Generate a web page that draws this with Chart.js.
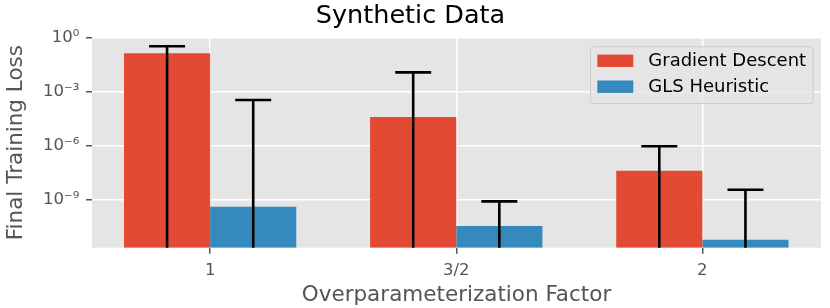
<!DOCTYPE html>
<html><head><meta charset="utf-8">
<script src="https://cdn.jsdelivr.net/npm/chart.js@4"></script>
<style>html,body{margin:0;padding:0;background:#fff;} #wrap{width:830px;height:308px;position:relative;}</style>
</head><body><div id="wrap"><canvas id="c" width="830" height="308"></canvas></div>
<script>
// ---- data ----
const categories = ['1', '3/2', '2'];
const categoryPositions = [0, 1, 2];
const seriesNames = ['Gradient Descent', 'GLS Heuristic'];
const gradientDescent = [0.133, 3.9e-5, 4.1e-8];
const glsHeuristic = [4.1e-10, 3.5e-11, 6.1e-12];
const gradientDescentErrHigh = [0.325, 0.0117, 9.3e-7];
const glsHeuristicErrHigh = [3.4e-4, 8.2e-10, 3.6e-9];
const gradientDescentErrLow = [1e-14, 1e-14, 1e-14];
const glsHeuristicErrLow = [1e-14, 1e-14, 1e-14];
const yTickValues = [1e-9, 1e-6, 1e-3, 1];
const yTickLabels = ['10⁻⁹', '10⁻⁶', '10⁻³', '10⁰'];
const yMin = 2.2e-12, yMax = 1;
const xMin = -0.48, xMax = 2.482;

const FONT = "'DejaVu Sans', sans-serif";
Chart.defaults.font.family = FONT;

const bgPlugin = {
  id: 'bg',
  beforeDraw(chart) {
    const {ctx, chartArea: a} = chart;
    ctx.save();
    ctx.fillStyle = '#E5E5E5';
    ctx.fillRect(a.left, a.top, a.right - a.left, a.bottom - a.top);
    ctx.restore();
  }
};

const errPlugin = {
  id: 'errbars',
  afterDatasetsDraw(chart) {
    const {ctx, chartArea: a, scales: {y}} = chart;
    ctx.save();
    ctx.beginPath();
    ctx.rect(a.left, a.top, a.right - a.left, a.bottom - a.top);
    ctx.clip();
    ctx.strokeStyle = '#000';
    ctx.lineWidth = 2.6;
    chart.data.datasets.forEach((ds, di) => {
      const meta = chart.getDatasetMeta(di);
      meta.data.forEach((bar, j) => {
        const yt = y.getPixelForValue(ds.errHigh[j]);
        const yb = Math.min(y.getPixelForValue(ds.errLow[j]), a.bottom + 5);
        ctx.beginPath();
        ctx.moveTo(bar.x, yb);
        ctx.lineTo(bar.x, yt);
        ctx.moveTo(bar.x - 18, yt);
        ctx.lineTo(bar.x + 18, yt);
        ctx.stroke();
      });
    });
    ctx.restore();
  }
};

const legendPlugin = {
  id: 'inlegend',
  afterDraw(chart) {
    const {ctx, chartArea: a} = chart;
    const w = 222.7, h = 56.7;
    const x0 = a.right - 8.3 - w, y0 = a.top + 8.8;
    ctx.save();
    ctx.beginPath();
    if (ctx.roundRect) ctx.roundRect(x0 + 0.5, y0 + 0.5, w, h, 3); else ctx.rect(x0 + 0.5, y0 + 0.5, w, h);
    ctx.fillStyle = 'rgba(229,229,229,0.8)';
    ctx.fill();
    ctx.strokeStyle = '#CCCCCC';
    ctx.lineWidth = 1;
    ctx.stroke();
    ctx.font = '18px ' + FONT;
    ctx.textBaseline = 'middle';
    ctx.textAlign = 'left';
    chart.data.datasets.forEach((ds, i) => {
      const cy = y0 + 14.5 + i * 25.9;
      ctx.fillStyle = ds.backgroundColor;
      ctx.fillRect(x0 + 7.3, cy - 6.2, 36, 12.4);
      ctx.fillStyle = '#000';
      ctx.fillText(ds.label, x0 + 58.3, cy + 0.5);
    });
    ctx.restore();
  }
};

new Chart(document.getElementById('c'), {
  type: 'bar',
  data: {
    datasets: [
      { label: seriesNames[0], data: categoryPositions.map((x, i) => ({x, y: gradientDescent[i]})),
        backgroundColor: '#E24A33', errHigh: gradientDescentErrHigh, errLow: gradientDescentErrLow },
      { label: seriesNames[1], data: categoryPositions.map((x, i) => ({x, y: glsHeuristic[i]})),
        backgroundColor: '#348ABD', errHigh: glsHeuristicErrHigh, errLow: glsHeuristicErrLow }
    ]
  },
  options: {
    responsive: false,
    animation: false,
    events: [],
    layout: { padding: { left: 0, right: 9, top: 0, bottom: 0 } },
    datasets: { bar: { categoryPercentage: 0.7, barPercentage: 1.0, borderWidth: 0 } },
    plugins: {
      legend: { display: false },
      tooltip: { enabled: false },
      title: { display: true, text: 'Synthetic Data', color: '#000',
        font: { size: 25.5, weight: 'normal', family: FONT }, padding: { top: 1.4, bottom: 5.5 } }
    },
    scales: {
      x: {
        type: 'linear', min: xMin, max: xMax, offset: false,
        afterBuildTicks: s => { s.ticks = categoryPositions.map(v => ({value: v})); },
        afterFit: s => { s.height = 60.3; },
        ticks: { color: '#555555', font: { size: 16.5 }, padding: 7, maxRotation: 0,
          callback: (v, i) => categories[i] },
        grid: { offset: false, color: '#FFFFFF', lineWidth: 1.5, tickColor: '#555555', tickLength: 6, drawOnChartArea: true },
        border: { display: false },
        title: { display: true, text: 'Overparameterization Factor', color: '#555555',
          font: { size: 21.5 }, padding: { top: 0, bottom: 0 } }
      },
      y: {
        type: 'logarithmic', min: yMin, max: yMax,
        afterBuildTicks: s => { s.ticks = yTickValues.map(v => ({value: v})); },
        afterFit: s => { s.width = 92; },
        ticks: { color: '#555555', font: { size: 16.5 }, padding: 6.7,
          callback: (v, i) => yTickLabels[i] },
        grid: { color: '#FFFFFF', lineWidth: 1.5, tickColor: '#555555', tickLength: 6 },
        border: { display: false },
        title: { display: true, text: 'Final Training Loss', color: '#555555',
          font: { size: 21.5 }, padding: { top: 3.7, bottom: 0 } }
      }
    }
  },
  plugins: [bgPlugin, errPlugin, legendPlugin]
});
</script>
</body></html>
